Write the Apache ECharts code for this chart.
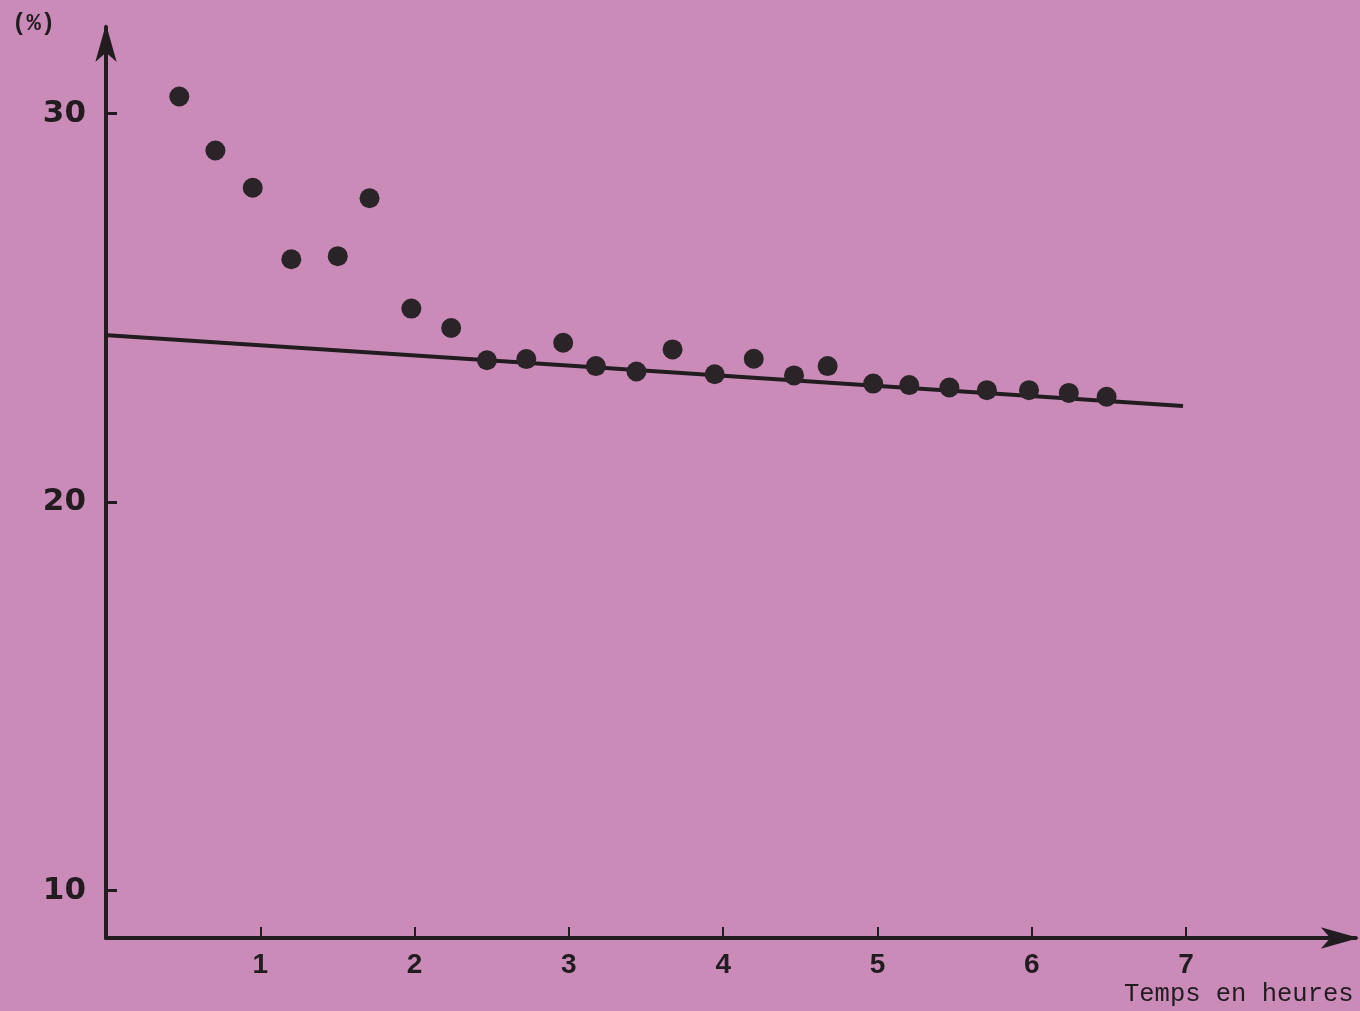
<!DOCTYPE html>
<html>
<head>
<meta charset="utf-8">
<script src="https://cdn.jsdelivr.net/npm/echarts@6/dist/echarts.min.js"></script>
<style>
html,body{margin:0;padding:0;background:#CA8BB9;}
#chart{width:1360px;height:1011px;}
</style>
</head>
<body>
<div id="chart"></div>
<script>
// Time in hours
var hours = [0.475,0.709,0.951,1.201,1.502,1.708,1.979,2.237,2.469,2.724,2.963,3.175,3.438,3.672,3.945,4.198,4.459,4.677,4.972,5.206,5.466,5.709,5.982,6.240,6.485];
// Measured values (%)
var percent = [30.44,29.05,28.09,26.25,26.33,27.82,24.98,24.48,23.65,23.68,24.10,23.50,23.36,23.93,23.29,23.69,23.26,23.50,23.05,23.01,22.95,22.88,22.88,22.81,22.71];
// Fitted straight line (endpoints)
var lineHours = [-0.09, 6.98];
var linePercent = [24.32, 22.47];
// Tick labels
var xTicks = [1,2,3,4,5,6,7];
var yTicks = [10,20,30];
var yUnit = '(%)';
var xTitle = 'Temps en heures';

var ink = '#221c20';
var points = hours.map(function(h,i){return [h, percent[i]];});
var lineData = lineHours.map(function(h,i){return [h, linePercent[i]];});

var chart = echarts.init(document.getElementById('chart'));
chart.setOption({
  backgroundColor: '#CA8BB9',
  animation: false,
  grid: {left: 106, right: 4.2, top: 26.9, bottom: 73, containLabel: false},
  xAxis: {
    type: 'value', min: 0, max: 8.1,
    splitLine: {show: false},
    axisLine: {show: true, symbol: ['none','arrow'], symbolSize: [16,38], symbolOffset: [0, 3], lineStyle: {color: ink, width: 4}},
    axisTick: {show: true, inside: true, length: 11, customValues: xTicks, lineStyle: {color: ink, width: 2}},
    axisLabel: {show: true, customValues: xTicks, margin: 13, color: ink, fontFamily: 'Liberation Sans', fontWeight: 'bold', fontSize: 28}
  },
  yAxis: {
    type: 'value', min: 8.78, max: 32.23,
    splitLine: {show: false},
    axisLine: {show: true, symbol: ['none','arrow'], symbolSize: [16,38], symbolOffset: [0, 3], lineStyle: {color: ink, width: 4}},
    axisTick: {show: true, inside: true, length: 11, customValues: yTicks, lineStyle: {color: ink, width: 3}},
    axisLabel: {show: true, customValues: yTicks, margin: 20, color: ink, fontFamily: 'DejaVu Sans', fontWeight: 'bold', fontSize: 31}
  },
  graphic: [
    {type: 'text', left: 12, top: 12, style: {text: yUnit, fill: ink, font: 'bold 24px "Liberation Mono"'}},
    {type: 'text', left: 1124, top: 981, style: {text: xTitle, fill: ink, font: '25.5px "Liberation Mono"'}}
  ],
  series: [
    {type: 'line', data: lineData, symbol: 'none', clip: false, z: 2,
     lineStyle: {color: ink, width: 4}},
    {type: 'scatter', data: points, symbol: 'circle', symbolSize: 20, z: 3,
     itemStyle: {color: '#2a2327', opacity: 1}}
  ]
});
</script>
</body>
</html>
